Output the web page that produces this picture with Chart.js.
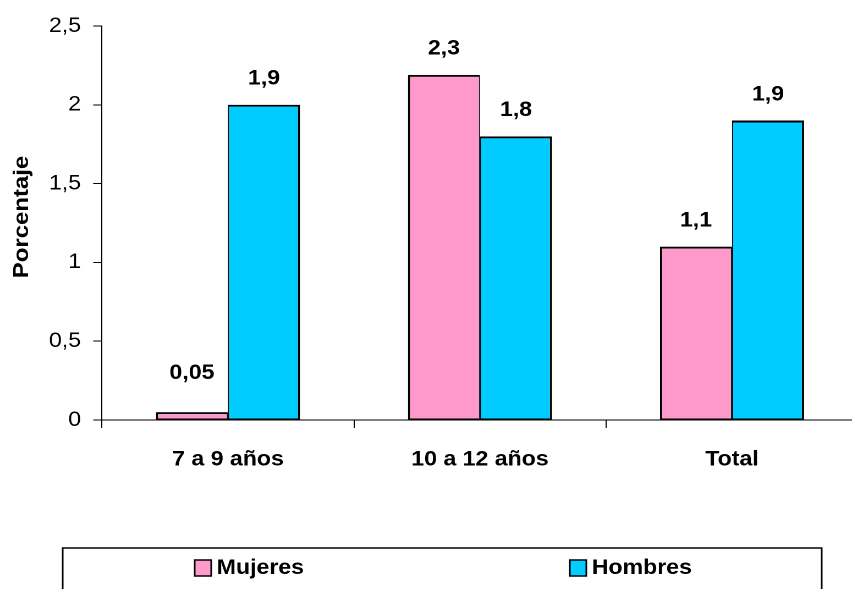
<!DOCTYPE html>
<html><head><meta charset="utf-8">
<script src="https://cdn.jsdelivr.net/npm/chart.js@4/dist/chart.umd.min.js"></script>
<style>
html,body{margin:0;padding:0;background:#fff;overflow:hidden;width:852px;height:589px}
#wrap{position:absolute;left:0;top:0;width:800px;height:589px;transform:scaleX(1.1);transform-origin:0 0}
</style></head><body>
<div id="wrap"><canvas id="c" width="800" height="589"></canvas></div>
<script>
// ---- data ----
const categories = ['7 a 9 años', '10 a 12 años', 'Total'];
const mujeres = [0.05, 2.19, 1.1];
const hombres = [2.0, 1.8, 1.9];
const mujeresLabels = ['0,05', '2,3', '1,1'];
const hombresLabels = ['1,9', '1,8', '1,9'];
const yTicks = [0, 0.5, 1, 1.5, 2, 2.5];
const seriesNames = ['Mujeres', 'Hombres'];
const axisTitle = 'Porcentaje';

const FONT = '"Liberation Sans", Arial, sans-serif';
const PINK = '#FF99CC', CYAN = '#00CCFF';

const valueLabels = {
  id: 'valueLabels',
  afterDatasetsDraw(chart) {
    const ctx = chart.ctx; ctx.save();
    ctx.font = 'bold 21px ' + FONT;
    ctx.fillStyle = '#000'; ctx.textAlign = 'center'; ctx.textBaseline = 'middle';
    const base = chart.scales.y.getPixelForValue(0);
    chart.data.datasets.forEach((ds, i) => {
      chart.getDatasetMeta(i).data.forEach((bar, j) => {
        const y = Math.min(bar.y - 26, base - 47);
        ctx.fillText(ds.valueLabels[j], bar.x, y);
      });
    });
    ctx.restore();
  }
};

const yTitle = {
  id: 'yTitle',
  afterDraw(chart) {
    const ctx = chart.ctx; ctx.save();
    ctx.translate(20, 217);
    ctx.rotate(-Math.PI / 2);
    ctx.scale(1.14, 0.91);
    ctx.font = 'bold 21px ' + FONT;
    ctx.fillStyle = '#000'; ctx.textAlign = 'center'; ctx.textBaseline = 'middle';
    ctx.fillText(axisTitle, 0, 0);
    ctx.restore();
  }
};

const boxLegend = {
  id: 'boxLegend',
  afterDraw(chart) {
    const ctx = chart.ctx; ctx.save();
    ctx.strokeStyle = '#000'; ctx.lineWidth = 1.5;
    ctx.strokeRect(57, 548, 690, 70);
    const xs = [177, 518];
    ctx.font = 'bold 21px ' + FONT;
    ctx.textBaseline = 'middle'; ctx.textAlign = 'left';
    chart.data.datasets.forEach((ds, i) => {
      const x = xs[i];
      ctx.fillStyle = ds.backgroundColor;
      ctx.fillRect(x, 560, 15, 16);
      ctx.lineWidth = 1.5; ctx.strokeStyle = '#000';
      ctx.strokeRect(x, 560, 15, 16);
      ctx.fillStyle = '#000';
      ctx.fillText(ds.label, x + 20, 568);
    });
    ctx.restore();
  }
};

new Chart(document.getElementById('c'), {
  type: 'bar',
  data: {
    labels: categories,
    datasets: [
      { label: seriesNames[0], data: mujeres, valueLabels: mujeresLabels,
        backgroundColor: PINK, borderColor: '#000',
        borderWidth: {top: 2, left: 2, right: 1, bottom: 1}, borderSkipped: false,
        categoryPercentage: 0.572, barPercentage: 1 },
      { label: seriesNames[1], data: hombres, valueLabels: hombresLabels,
        backgroundColor: CYAN, borderColor: '#000',
        borderWidth: {top: 2, left: 1, right: 2, bottom: 1}, borderSkipped: false,
        categoryPercentage: 0.572, barPercentage: 1 }
    ]
  },
  options: {
    responsive: false, animation: false, devicePixelRatio: 2,
    layout: { padding: { top: 26, right: 20, left: 0, bottom: 0 } },
    plugins: { legend: { display: false }, tooltip: { enabled: false } },
    scales: {
      x: {
        grid: { display: true, drawOnChartArea: false, drawTicks: true, tickLength: 8, color: '#000', lineWidth: 1, offset: true },
        border: { display: true, color: '#000', width: 1 },
        ticks: { font: { family: FONT, size: 21, weight: 'bold' }, color: '#000', padding: 19, maxRotation: 0, autoSkip: false },
        afterFit: s => { s.height = 169; }
      },
      y: {
        min: 0, max: 2.5,
        afterBuildTicks: s => { s.ticks = yTicks.map(v => ({ value: v })); },
        grid: { drawOnChartArea: false, drawTicks: true, tickLength: 8, color: '#000', lineWidth: 1 },
        border: { display: true, color: '#000', width: 1 },
        ticks: { font: { family: FONT, size: 21 }, color: '#000', padding: 11,
                 callback: v => String(v).replace('.', ',') },
        title: { display: false },
        afterFit: s => { s.width = 92.7; }
      }
    }
  },
  plugins: [valueLabels, yTitle, boxLegend]
});
</script>
</body></html>
